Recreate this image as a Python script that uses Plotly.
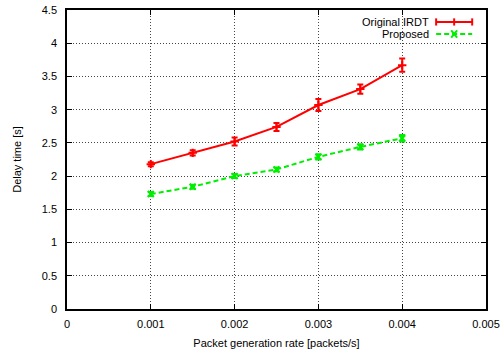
import plotly.graph_objects as go

rates = [0.001, 0.0015, 0.002, 0.0025, 0.003, 0.0035, 0.004]
irdt_delay = [2.18, 2.35, 2.52, 2.74, 3.07, 3.31, 3.67]
irdt_err = [0.03, 0.04, 0.06, 0.06, 0.09, 0.07, 0.10]
prop_delay = [1.73, 1.84, 2.00, 2.10, 2.29, 2.44, 2.57]
prop_err = [0.03, 0.03, 0.03, 0.03, 0.04, 0.04, 0.05]

x_ticks = [0, 0.001, 0.002, 0.003, 0.004, 0.005]
x_ticktext = ["0", "0.001", "0.002", "0.003", "0.004", "0.005"]
y_ticks = [0, 0.5, 1, 1.5, 2, 2.5, 3, 3.5, 4, 4.5]
y_ticktext = ["0", "0.5", "1", "1.5", "2", "2.5", "3", "3.5", "4", "4.5"]

series_names = ["Original IRDT", "Proposed"]
red = "#ff0000"
green = "#00ee00"

fig = go.Figure()
fig.add_trace(go.Scatter(
    x=rates, y=irdt_delay, mode="lines+markers", name=series_names[0],
    line=dict(color=red, width=2),
    marker=dict(symbol="cross-thin", size=6, line=dict(color=red, width=2)),
    error_y=dict(type="data", array=irdt_err, color=red, thickness=2, width=3),
    showlegend=False,
))
fig.add_trace(go.Scatter(
    x=rates, y=prop_delay, mode="lines+markers", name=series_names[1],
    line=dict(color=green, width=2, dash="5px,3px"),
    marker=dict(symbol="x-thin", size=6, line=dict(color=green, width=2)),
    error_y=dict(type="data", array=prop_err, color=green, thickness=2, width=3),
    showlegend=False,
))

font = dict(family="Liberation Sans, Arial, sans-serif", size=11, color="#000")

# Gnuplot-style key: text right-aligned, sample to its right
kx0, kx1, kxm = 0.881, 0.967, 0.924
dy = 0.012
dxm = 0.007
key_rows = [(0.960, series_names[0], red, "solid"), (0.920, series_names[1], green, "5px,3px")]
for i, (yk, txt, col, dash) in enumerate(key_rows):
    fig.add_annotation(xref="paper", yref="paper", x=0.868, y=yk, text=txt,
                       showarrow=False, xanchor="right", yanchor="middle", font=font)
    fig.add_shape(type="line", xref="paper", yref="paper", x0=kx0, x1=kx1,
                  y0=yk, y1=yk, line=dict(color=col, width=2, dash=dash))
    if i == 0:
        for xx in (kx0, kxm, kx1):
            fig.add_shape(type="line", xref="paper", yref="paper", x0=xx, x1=xx,
                          y0=yk - dy, y1=yk + dy, line=dict(color=col, width=2))
    else:
        fig.add_shape(type="line", xref="paper", yref="paper", x0=kxm - dxm, x1=kxm + dxm,
                      y0=yk - dy, y1=yk + dy, line=dict(color=col, width=2))
        fig.add_shape(type="line", xref="paper", yref="paper", x0=kxm - dxm, x1=kxm + dxm,
                      y0=yk + dy, y1=yk - dy, line=dict(color=col, width=2))

axis_common = dict(
    showline=True, linecolor="#000", linewidth=1.5, mirror="ticks",
    ticks="inside", ticklen=5, tickcolor="#000",
    showgrid=True, gridcolor="#444", griddash="1px,2px", gridwidth=1,
    zeroline=False, tickfont=font, automargin=False,
)

fig.update_layout(
    width=502, height=349,
    margin=dict(l=67, r=16, t=10, b=40),
    paper_bgcolor="white", plot_bgcolor="white",
    font=font,
    xaxis=dict(range=[0, 0.005], tickvals=x_ticks, ticktext=x_ticktext,
               ticklabelstandoff=4,
               title=dict(text="Packet generation rate [packets/s]", font=font, standoff=17),
               **axis_common),
    yaxis=dict(range=[0, 4.5], tickvals=y_ticks, ticktext=y_ticktext,
               ticklabelstandoff=6,
               title=dict(text="Delay time [s]", font=font, standoff=18),
               **axis_common),
)

# remove the default page margin so the figure fills the window exactly
fig.write_html("out.html",
               config={"displayModeBar": False},
               post_script="document.body.style.margin='0';document.body.style.overflow='hidden';")
